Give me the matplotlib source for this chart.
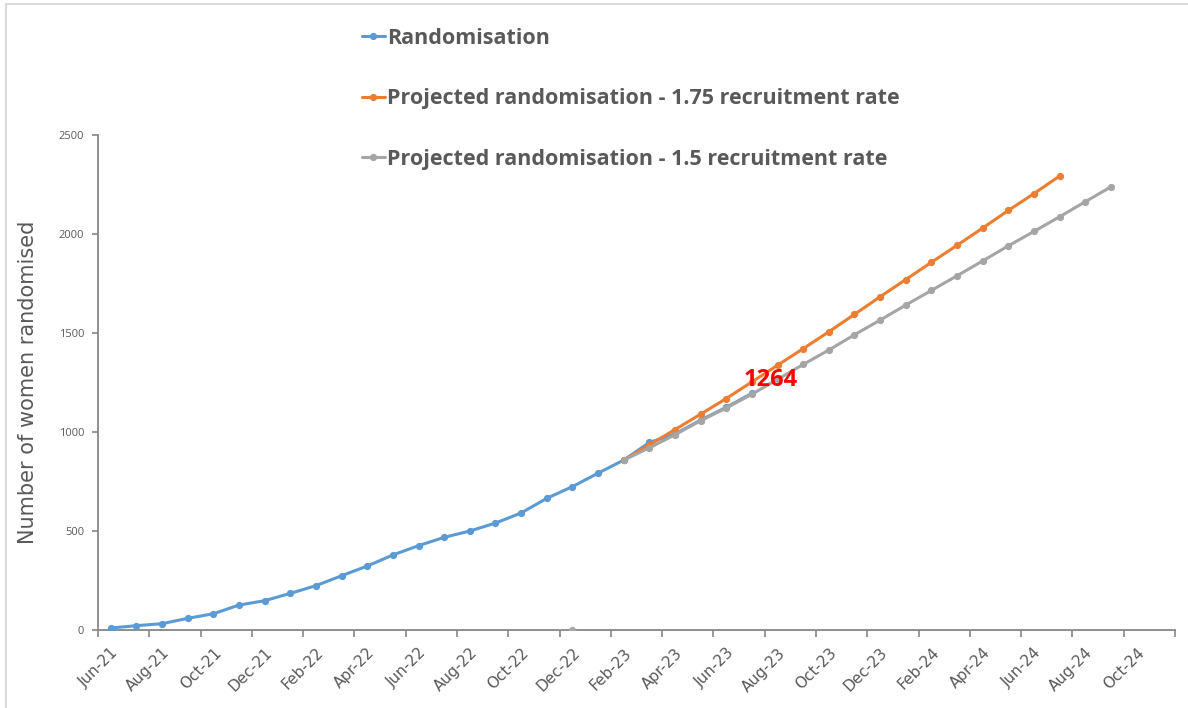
import numpy as np
import matplotlib
matplotlib.use("Agg")
import matplotlib.pyplot as plt
from matplotlib.patches import Rectangle

# ---- data ----
n_categories = 42  # Jun-21 .. Nov-24 (monthly categories)
tick_labels = ["Jun-21", "Aug-21", "Oct-21", "Dec-21", "Feb-22", "Apr-22", "Jun-22",
               "Aug-22", "Oct-22", "Dec-22", "Feb-23", "Apr-23", "Jun-23", "Aug-23",
               "Oct-23", "Dec-23", "Feb-24", "Apr-24", "Jun-24", "Aug-24", "Oct-24"]

randomisation = [10, 22, 32, 59, 82, 126, 148, 185, 224, 274, 323, 379, 426, 468,
                 500, 540, 591, 665, 724, 792, 858, 947, 990, 1060, 1125, 1195]
randomisation_start = 0

proj_175 = [858, 935, 1012, 1090, 1169, 1253, 1337, 1421, 1506, 1594, 1683, 1770,
            1857, 1943, 2030, 2119, 2204, 2293]
proj_175_start = 20

proj_15 = [0, np.nan, 858, 920, 986, 1057, 1121, 1191, 1266, 1341, 1414, 1491, 1565,
           1641, 1715, 1789, 1864, 1940, 2013, 2087, 2163, 2238]
proj_15_start = 18

annotation_value = "1264"

series_names = ["Randomisation",
                "Projected randomisation - 1.75 recruitment rate",
                "Projected randomisation - 1.5 recruitment rate"]
colors = ["#5B9BD5", "#ED7D31", "#A5A5A5"]

narrow = ["Open Sans", "DejaVu Sans"]

# ---- figure ----
W, H = 1188, 708
fig = plt.figure(figsize=(W / 100, H / 100), dpi=100)
fig.patch.set_facecolor("white")

# chart-area border (light grey), right/bottom edges cut off
fig.patches.append(Rectangle((6 / W, -0.1), 1.2, (1 - 4 / H) + 0.1, transform=fig.transFigure,
                             fill=False, edgecolor="#D9D9D9", linewidth=1.5))

ax = fig.add_axes([98 / W, 1 - 630 / H, (1175 - 98) / W, (630 - 135) / H])

txt_col = "#595959"
axis_col = "#868686"

def xs(start, n):
    return np.arange(start, start + n) + 0.5

series = [(randomisation_start, randomisation),
          (proj_175_start, proj_175),
          (proj_15_start, proj_15)]
handles = []
for z, ((s, vals), c, name) in enumerate(zip(series, colors, series_names)):
    h, = ax.plot(xs(s, len(vals)), vals, color=c, lw=2.2, marker="o", ms=4.2,
                 mec=c, mfc=c, label=name, zorder=3 + z, solid_capstyle="round")
    handles.append(h)

ax.set_xlim(0, n_categories)
ax.set_ylim(0, 2500)

for sp in ["top", "right"]:
    ax.spines[sp].set_visible(False)
for sp in ["left", "bottom"]:
    ax.spines[sp].set_color(axis_col)
    ax.spines[sp].set_linewidth(1.3)

ax.set_yticks(np.arange(0, 2501, 500))
ax.tick_params(axis="y", direction="out", length=4, width=1.2, color=axis_col,
               labelsize=8, labelcolor=txt_col, pad=6)
for t in ax.get_yticklabels():
    t.set_family(narrow)

ax.set_xticks(np.arange(0, n_categories + 1, 2))
ax.set_xticklabels([])
ax.tick_params(axis="x", which="major", direction="out", length=5, width=1.2, color=axis_col)
ax.set_xticks(np.arange(len(tick_labels)) * 2 + 0.5, minor=True)
ax.set_xticklabels(tick_labels, minor=True, rotation=45, ha="right",
                   rotation_mode="anchor", fontsize=11, color=txt_col)
ax.tick_params(axis="x", which="minor", length=0, pad=11)

ax.set_ylabel("Number of women randomised", fontsize=15, color=txt_col)
ax.yaxis.set_label_coords(-(98 - 38) / (1175 - 98), 0.5)

ax.text(26.25, 1261, annotation_value, color="red", fontsize=17, fontweight="bold",
        family=narrow, ha="center", va="center", zorder=10)

leg = fig.legend(handles=handles, loc="upper left",
                 bbox_to_anchor=(362 / W, 1 - 28 / H), frameon=False,
                 prop={"size": 15.5, "weight": "bold", "family": narrow}, labelcolor=txt_col,
                 handlelength=1.05, handletextpad=0.12, labelspacing=1.83,
                 borderpad=0, borderaxespad=0)

fig.savefig("out.png", dpi=100, facecolor="white")
